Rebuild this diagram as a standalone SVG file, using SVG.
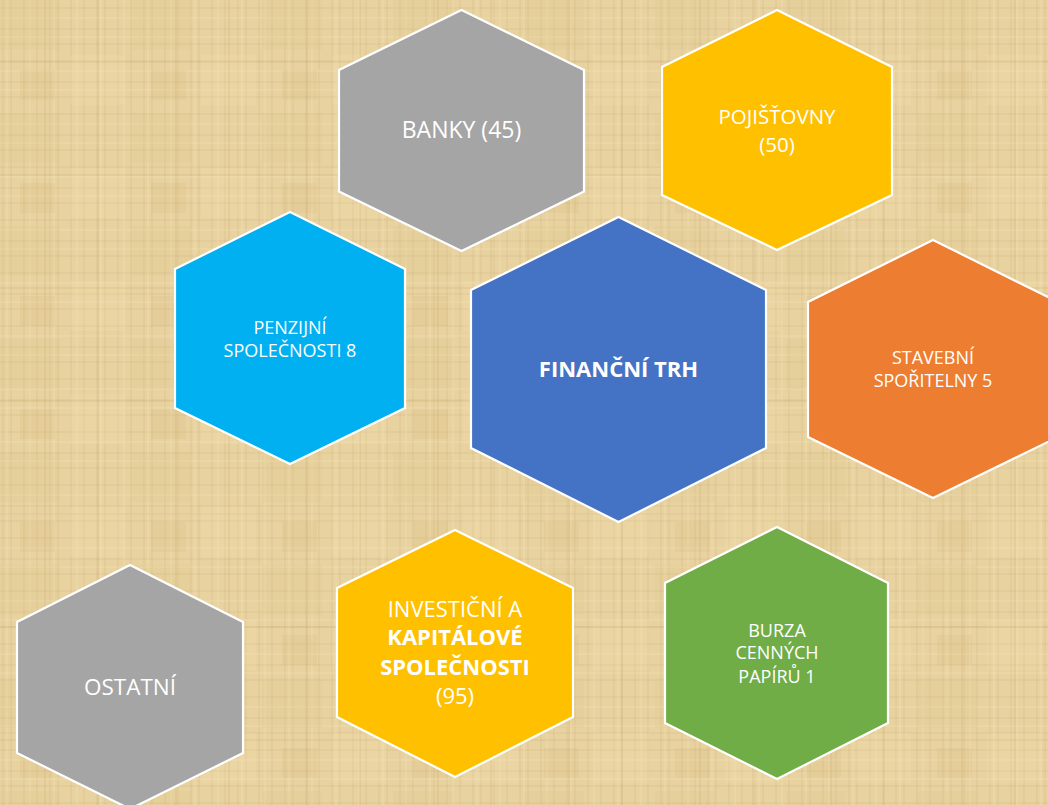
<svg xmlns="http://www.w3.org/2000/svg" width="1048" height="805" viewBox="0 0 1048 805">
  <defs>
    <pattern id="texA" width="47" height="53" patternUnits="userSpaceOnUse">
      <rect width="47" height="53" fill="#E8D29F"/>
      <g stroke="#C9AD74" stroke-opacity="0.28" stroke-width="1">
        <line x1="3" y1="0" x2="3" y2="53"/>
        <line x1="11" y1="0" x2="11" y2="53"/>
        <line x1="24" y1="0" x2="24" y2="53"/>
        <line x1="37" y1="0" x2="37" y2="53"/>
        <line x1="0" y1="8" x2="47" y2="8"/>
        <line x1="0" y1="29" x2="47" y2="29"/>
        <line x1="0" y1="44" x2="47" y2="44"/>
      </g>
      <g stroke="#F6E6BE" stroke-opacity="0.45" stroke-width="1">
        <line x1="7" y1="0" x2="7" y2="53"/>
        <line x1="30" y1="0" x2="30" y2="53"/>
        <line x1="0" y1="18" x2="47" y2="18"/>
        <line x1="0" y1="37" x2="47" y2="37"/>
      </g>
    </pattern>
    <pattern id="texB" width="131" height="113" patternUnits="userSpaceOnUse">
      <rect x="0" y="0" width="60" height="50" fill="#D8BC80" fill-opacity="0.15"/>
      <rect x="70" y="55" width="55" height="50" fill="#F3E0B0" fill-opacity="0.22"/>
      <rect x="20" y="70" width="35" height="30" fill="#CDAE70" fill-opacity="0.12"/>
      <g stroke="#BFA066" stroke-opacity="0.2" stroke-width="1.5">
        <line x1="45" y1="0" x2="45" y2="113"/>
        <line x1="98" y1="0" x2="98" y2="113"/>
        <line x1="0" y1="62" x2="131" y2="62"/>
      </g>
    </pattern>
    <style>
      .hex { stroke: #FFFFFF; stroke-width: 2.2; }
      .t { font-family: "Open Sans", "Liberation Sans", sans-serif; fill: #FFFFFF; text-anchor: middle; }
      .b { font-weight: bold; }
    </style>
  </defs>

  <rect width="1048" height="805" fill="url(#texA)"/>
  <rect width="1048" height="805" fill="url(#texB)"/>

  <g id="connectors"/>

  <g id="banky">
    <polygon class="hex" fill="#A5A5A5" points="461.5,10 584,70 584,191.5 461.5,251 339,191.5 339,70"/>
    <text class="t" x="461.5" y="138" font-size="23">BANKY (45)</text>
  </g>

  <g id="pojistovny">
    <polygon class="hex" fill="#FFC000" points="777,10 892,67 892,195 777,250 662,195 662,67"/>
    <text class="t" x="777" y="124.3" font-size="20.5">POJIŠŤOVNY</text>
    <text class="t" x="777" y="151.7" font-size="20.5">(50)</text>
  </g>

  <g id="penzijni">
    <polygon class="hex" fill="#00B0F0" points="290,212 405,269 405,408 290,464 175,408 175,269"/>
    <text class="t" x="290" y="334.3" font-size="18">PENZIJNÍ</text>
    <text class="t" x="290" y="356.7" font-size="18">SPOLEČNOSTI 8</text>
  </g>

  <g id="financni-trh">
    <polygon class="hex" fill="#4472C4" points="618.5,217 766,290 766,448 618.5,522 471,448 471,290"/>
    <text class="t b" x="618.5" y="376.7" font-size="22">FINANČNÍ TRH</text>
  </g>

  <g id="stavebni">
    <polygon class="hex" fill="#ED7D31" points="933,240 1058,302 1058,437 933,498 808,437 808,302"/>
    <text class="t" x="933" y="364.3" font-size="18">STAVEBNÍ</text>
    <text class="t" x="933" y="386.7" font-size="18">SPOŘITELNY 5</text>
  </g>

  <g id="ostatni">
    <polygon class="hex" fill="#A5A5A5" points="130,565 243,622 243,753 130,809 17,753 17,622"/>
    <text class="t" x="130" y="695" font-size="22.5">OSTATNÍ</text>
  </g>

  <g id="investicni">
    <polygon class="hex" fill="#FFC000" points="455,530 573,588 573,717 455,777 337,717 337,588"/>
    <text class="t" x="455" y="616.7" font-size="22">INVESTIČNÍ A</text>
    <text class="t b" x="455" y="645" font-size="22">KAPITÁLOVÉ</text>
    <text class="t b" x="455" y="675" font-size="22">SPOLEČNOSTI</text>
    <text class="t" x="455" y="704" font-size="22">(95)</text>
  </g>

  <g id="burza">
    <polygon class="hex" fill="#70AD47" points="777,527 888,583 888,723 777,779 665,723 665,583"/>
    <text class="t" x="777" y="636.7" font-size="18">BURZA</text>
    <text class="t" x="777" y="659.3" font-size="18">CENNÝCH</text>
    <text class="t" x="777" y="683.3" font-size="18">PAPÍRŮ 1</text>
  </g>
</svg>
